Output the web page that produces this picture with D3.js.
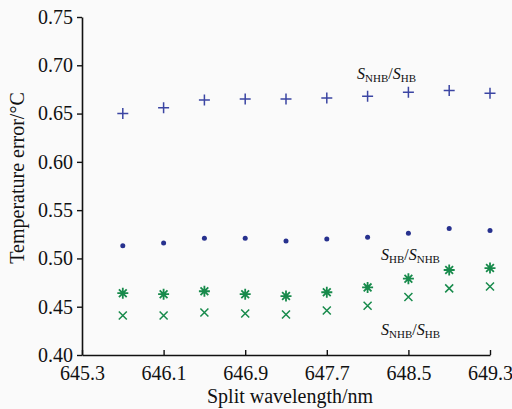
<!DOCTYPE html>
<html><head><meta charset="utf-8">
<script src="https://cdn.jsdelivr.net/npm/d3@7"></script>
<style>
html,body{margin:0;padding:0;background:#fafafa;}
svg{display:block;}
text{font-family:"Liberation Serif","Times New Roman",serif !important;fill:#111;}
</style></head>
<body><svg id="c" width="512" height="409"></svg>
<script>
const wavelengths = [645.7, 646.1, 646.5, 646.9, 647.3, 647.7, 648.1, 648.5, 648.9, 649.3];
const plusSeries  = [0.650, 0.656, 0.664, 0.665, 0.665, 0.666, 0.668, 0.672, 0.674, 0.671];
const dotSeries   = [0.513, 0.516, 0.521, 0.521, 0.518, 0.520, 0.522, 0.526, 0.531, 0.529];
const starSeries  = [0.464, 0.463, 0.466, 0.463, 0.461, 0.465, 0.470, 0.479, 0.488, 0.490];
const crossSeries = [0.441, 0.441, 0.444, 0.443, 0.442, 0.446, 0.451, 0.460, 0.469, 0.471];
const xTicks = [645.3, 646.1, 646.9, 647.7, 648.5, 649.3];
const yTicks = [0.40, 0.45, 0.50, 0.55, 0.60, 0.65, 0.70, 0.75];

const svg = d3.select("#c");
const L = 82, R = 490, T = 17, B = 355;
const x = d3.scaleLinear().domain([645.3, 649.3]).range([L, R]);
const y = d3.scaleLinear().domain([0.40, 0.75]).range([B, T]);
const FONT = '"Liberation Serif","Times New Roman",serif';

// axes
const xAxis = d3.axisBottom(x).tickValues(xTicks).tickFormat(d3.format(".1f")).tickSizeInner(-5).tickSizeOuter(0).tickPadding(10);
const gx = svg.append("g").attr("transform", `translate(0,${B})`).call(xAxis)
  .attr("font-family", FONT).attr("font-size", 20);
gx.select(".domain").attr("stroke", "#111").attr("stroke-width", 1.6);
gx.selectAll(".tick line").attr("stroke", "#111").attr("stroke-width", 1.4);
gx.selectAll(".tick text").attr("dy", "0.75em").attr("fill", "#111");

const yAxis = d3.axisLeft(y).tickValues(yTicks).tickFormat(d3.format(".2f")).tickSizeInner(5).tickSizeOuter(0).tickPadding(4);
const gy = svg.append("g").attr("transform", `translate(${L},0)`).call(yAxis)
  .attr("font-family", FONT).attr("font-size", 20);
gy.select(".domain").attr("stroke", "#111").attr("stroke-width", 1.6);
gy.selectAll(".tick line").attr("stroke", "#111").attr("stroke-width", 1.4);
gy.selectAll(".tick text").attr("fill", "#111");

// axis titles
svg.append("text").attr("x", (L + R) / 2 + 4).attr("y", 403).attr("text-anchor", "middle").attr("font-size", 20).text("Split wavelength/nm");
svg.append("text").attr("transform", `translate(24,${(T + B) / 2 - 8}) rotate(-90)`).attr("text-anchor", "middle").attr("font-size", 20).text("Temperature error/°C");

const blue = "#3b45a3", dotBlue = "#27318e", green = "#178a4b";

// plus markers
const plusPath = (cx, cy, s) => `M${cx - s},${cy}H${cx + s}M${cx},${cy - s}V${cy + s}`;
svg.append("g").selectAll("path").data(wavelengths).join("path")
  .attr("d", (d, i) => plusPath(x(d), y(plusSeries[i]), 5.5))
  .attr("stroke", blue).attr("stroke-width", 1.5).attr("fill", "none");

// dot markers
svg.append("g").selectAll("circle").data(wavelengths).join("circle")
  .attr("cx", d => x(d)).attr("cy", (d, i) => y(dotSeries[i])).attr("r", 2.5).attr("fill", dotBlue);

// star (asterisk) markers
const starPath = (cx, cy, s) => {
  let p = "";
  for (let k = 0; k < 4; k++) {
    const a = k * Math.PI / 4;
    const dx = s * Math.cos(a), dy = s * Math.sin(a);
    p += `M${cx - dx},${cy - dy}L${cx + dx},${cy + dy}`;
  }
  return p;
};
svg.append("g").selectAll("path").data(wavelengths).join("path")
  .attr("d", (d, i) => starPath(x(d), y(starSeries[i]), 5.5))
  .attr("stroke", green).attr("stroke-width", 1.8).attr("fill", "none");

// cross markers
const crossPath = (cx, cy, s) => `M${cx - s},${cy - s}L${cx + s},${cy + s}M${cx - s},${cy + s}L${cx + s},${cy - s}`;
svg.append("g").selectAll("path").data(wavelengths).join("path")
  .attr("d", (d, i) => crossPath(x(d), y(crossSeries[i]), 4))
  .attr("stroke", green).attr("stroke-width", 1.5).attr("fill", "none");

// series labels
function ratioLabel(px, py, a, b) {
  const t = svg.append("text").attr("x", px).attr("y", py).attr("font-size", 16);
  t.append("tspan").attr("font-style", "italic").text("S");
  t.append("tspan").attr("font-size", 11).attr("dy", 3).text(a);
  t.append("tspan").attr("dy", -3).text("/");
  t.append("tspan").attr("font-style", "italic").text("S");
  t.append("tspan").attr("font-size", 11).attr("dy", 3).text(b);
}
ratioLabel(357, 79, "NHB", "HB");
ratioLabel(381, 260, "HB", "NHB");
ratioLabel(381, 335, "NHB", "HB");
</script></body></html>
